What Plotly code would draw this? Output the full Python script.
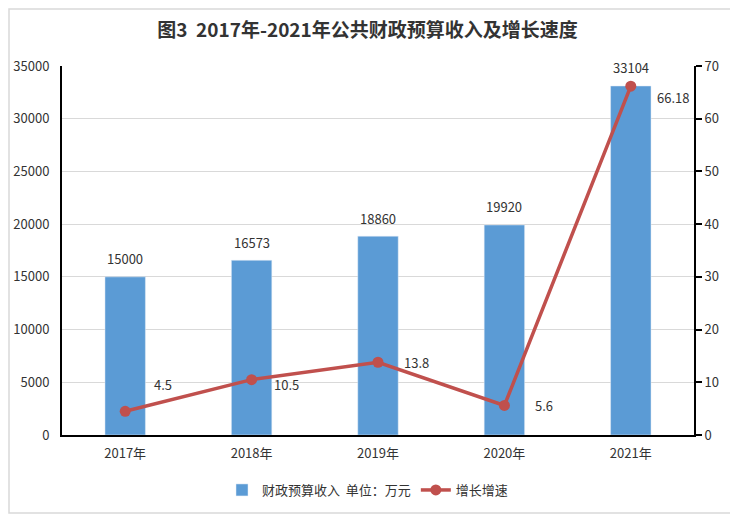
import plotly.graph_objects as go

# chart data
years = ["2017年", "2018年", "2019年", "2020年", "2021年"]
revenue = [15000, 16573, 18860, 19920, 33104]
growth = [4.5, 10.5, 13.8, 5.6, 66.18]
growth_text = ["4.5", "10.5", "13.8", "5.6", "66.18"]

# label offsets (px) for the growth labels, as Excel placed them
growth_dx = [38, 35, 38, 40, 42]
growth_dy = [-27, 5, 0, 0, 11]

FONT = "Noto Sans CJK SC"
BLUE = "#5B9BD5"
RED = "#C0504D"
TXT = "#333333"

# page body has an 8px margin, so the figure is 8px smaller than the window
W, H = 730, 508
L, R, T, B = 54, 44, 58, 81
PW, PH = W - L - R, H - T - B

fig = go.Figure()

fig.add_trace(go.Bar(
    x=years, y=revenue,
    name="财政预算收入  单位：万元",
    marker_color=BLUE,
))

fig.add_trace(go.Scatter(
    x=years, y=growth,
    name="增长增速",
    yaxis="y2",
    mode="lines+markers",
    line=dict(color=RED, width=3.5),
    marker=dict(color=RED, size=11),
))

# bar value labels
for yr, v in zip(years, revenue):
    fig.add_annotation(
        x=yr, y=v, text=str(v), showarrow=False, yshift=18,
        font=dict(size=13, color=TXT, family=FONT),
    )

# growth labels
for yr, g, t, dx, dy in zip(years, growth, growth_text, growth_dx, growth_dy):
    fig.add_annotation(
        x=yr, y=g, yref="y2", text=t, showarrow=False,
        xshift=dx, yshift=-dy,
        font=dict(size=13, color=TXT, family=FONT),
    )

# outer light grey frame
fig.add_shape(type="rect", xref="paper", yref="paper",
              x0=(1 - L) / PW, x1=(W - 2 - L) / PW,
              y0=-(H - 3 - T - PH) / PH, y1=1 + (T - 1) / PH,
              line=dict(color="#D9D9D9", width=1.5), layer="below")

fig.update_layout(
    width=W, height=H,
    margin=dict(l=L, r=R, t=T, b=B, autoexpand=False),
    paper_bgcolor="white", plot_bgcolor="white",
    font=dict(family=FONT, size=13, color=TXT),
    title=dict(
        text="<b>图3  2017年-2021年公共财政预算收入及增长速度</b>",
        x=(367.5 - 8) / W, xanchor="center", xref="container",
        y=1 - (30 - 8) / H, yanchor="middle", yref="container",
        font=dict(size=19, color=TXT, family=FONT),
    ),
    bargap=0.68,
    showlegend=True,
    legend=dict(orientation="h", x=(222 - 8) / W, xanchor="left", xref="container",
                yref="container", y=1 - (490 - 8) / H, yanchor="middle",
                font=dict(size=13, color=TXT), itemwidth=30,
                tracegroupgap=0),
    xaxis=dict(
        showline=True, linecolor="black", linewidth=2,
        ticks="", tickfont=dict(size=13), ticklabelstandoff=5,
    ),
    yaxis=dict(
        range=[0, 35000], dtick=5000, tickformat="d",
        showline=True, linecolor="black", linewidth=2,
        showgrid=True, gridcolor="#D9D9D9", gridwidth=1,
        ticks="", ticklabelstandoff=8, tickfont=dict(size=13),
        zeroline=False,
    ),
    yaxis2=dict(
        range=[0, 70], dtick=10, overlaying="y", side="right",
        showline=True, linecolor="black", linewidth=2,
        ticks="outside", ticklen=6, tickwidth=2, tickcolor="black",
        showgrid=False, zeroline=False, tickfont=dict(size=13),
    ),
)

fig.write_html("out.html")
